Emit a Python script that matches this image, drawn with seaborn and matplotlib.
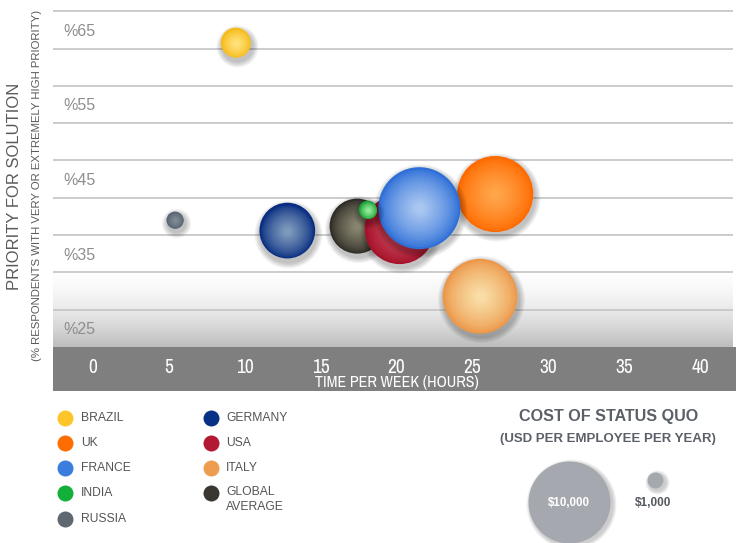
import numpy as np
import pandas as pd
import matplotlib
matplotlib.use("Agg")
import matplotlib.pyplot as plt
import matplotlib.transforms as mtransforms
from matplotlib.colors import LinearSegmentedColormap, to_rgb
from matplotlib import font_manager
import seaborn as sns

# ---- data -------------------------------------------------------------
countries = ["BRAZIL", "UK", "ITALY", "RUSSIA", "GERMANY", "GLOBAL AVERAGE",
             "USA", "FRANCE", "INDIA"]
hours_per_week = [9.4, 26.5, 25.5, 5.4, 12.8, 17.4, 20.2, 21.5, 18.1]
priority_pct = [63.3, 43.0, 29.3, 39.5, 38.1, 38.7, 38.3, 41.1, 40.9]
cost_usd = [2400, 9000, 8800, 1100, 5800, 5700, 8000, 10000, 1200]

x_ticks = [0, 5, 10, 15, 20, 25, 30, 35, 40]
y_labels = [25, 35, 45, 55, 65]
y_grid = [27.5, 32.5, 37.5, 42.5, 47.5, 52.5, 57.5, 62.5, 67.5]

legend_left = ["BRAZIL", "UK", "FRANCE", "INDIA", "RUSSIA"]
legend_right = ["GERMANY", "USA", "ITALY", "GLOBAL AVERAGE"]
cost_legend_values = [10000, 1000]
cost_legend_labels = ["$10,000", "$1,000"]

# flat colour per series, plus edge / centre tones for the sphere shading
flat = {"BRAZIL": "#fdc52a", "UK": "#ff6c00", "FRANCE": "#3b7ddd",
        "INDIA": "#12b038", "RUSSIA": "#5f6770", "GERMANY": "#073185",
        "USA": "#b31933", "ITALY": "#ee9c50", "GLOBAL AVERAGE": "#3a3631"}
edge_tone = {"BRAZIL": "#f6bb16", "UK": "#ff6a00", "FRANCE": "#2e6fd8",
             "INDIA": "#16a232", "RUSSIA": "#566270", "GERMANY": "#072c80",
             "USA": "#a5132b", "ITALY": "#ec984a", "GLOBAL AVERAGE": "#302d28"}
centre_tone = {"BRAZIL": "#ffe27c", "UK": "#ffa54a", "FRANCE": "#a8c6f0",
               "INDIA": "#98ec9f", "RUSSIA": "#818c98", "GERMANY": "#7d99bc",
               "USA": "#cc4a5c", "ITALY": "#f9dda6", "GLOBAL AVERAGE": "#88856f"}

df = pd.DataFrame({"country": countries, "hours": hours_per_week,
                   "priority": priority_pct, "cost": cost_usd})

DPI = 100


def bubble_radius_px(cost):
    # radius grows with cost on a power scale; $10,000 -> 41 px, $1,000 -> 8 px
    return 41.0 * (np.asarray(cost, dtype=float) / 10000.0) ** 0.7097


def bubble_area_pt2(cost):
    return (2 * bubble_radius_px(cost) * 72.0 / DPI) ** 2


def mix(c1, c2, t):
    a, b = np.array(to_rgb(c1)), np.array(to_rgb(c2))
    return tuple(a + (b - a) * t)


# ---- style ------------------------------------------------------------
sns.set_style("white")
plt.rcParams["font.family"] = ["Liberation Sans", "DejaVu Sans"]

# condensed face for the band labels, when one is available
condensed = None
for f in font_manager.fontManager.ttflist:
    if "Narrow" in f.name:
        condensed = dict(family=f.name)
        break
if condensed is None:
    for f in font_manager.fontManager.ttflist:
        if f.name == "DejaVu Sans" and "ondensed" in f.fname and f.weight in (400, "normal"):
            condensed = dict(fname=f.fname)
            break


def band_font(size):
    if condensed is None:
        return font_manager.FontProperties(family="Liberation Sans", size=size * 0.85)
    if "fname" in condensed:
        return font_manager.FontProperties(fname=condensed["fname"], size=size * 0.92)
    return font_manager.FontProperties(family=condensed["family"], size=size)


W, H = 736, 543
fig = plt.figure(figsize=(W / DPI, H / DPI), dpi=DPI)
fig.patch.set_facecolor("white")

# full-figure canvas in pixel units for the band, titles and legends
canvas = fig.add_axes([0, 0, 1, 1], zorder=0)
canvas.set_xlim(0, W)
canvas.set_ylim(H, 0)
canvas.axis("off")

# ---- main axes --------------------------------------------------------
ax_left, ax_right, ax_bottom_px = 53, 733, 347
ax = fig.add_axes([ax_left / W, (H - ax_bottom_px) / H,
                   (ax_right - ax_left) / W, ax_bottom_px / H], zorder=1)
ax.set_facecolor("white")
x_min, x_max = -2.64, 42.17
y_min, y_max = 22.5, 69.0
ax.set_xlim(x_min, x_max)
ax.set_ylim(y_min, y_max)
for s in ax.spines.values():
    s.set_visible(False)

# soft grey fade at the bottom of the plotting area
fade = LinearSegmentedColormap.from_list(
    "fade", [(0, "#bdbdbd"), (0.25, "#d6d6d6"), (0.5, "#eaeaea"),
             (0.75, "#f7f7f7"), (1.0, "#ffffff")])
ax.imshow(np.linspace(0, 1, 200).reshape(-1, 1), cmap=fade, aspect="auto",
          origin="lower", extent=[x_min, x_max, 22.5, 32.5], zorder=0)

for g in y_grid:
    ax.axhline(g, color="#c4c4c4", lw=1.2, zorder=1)

ax.set_yticks(y_labels)
ax.set_yticklabels([f"%{v}" for v in y_labels])
ax.tick_params(axis="y", length=0, pad=-7.5, labelsize=11.5, labelcolor="#8e8e8e")
for lbl in ax.get_yticklabels():
    lbl.set_horizontalalignment("left")

ax.set_xticks(x_ticks)
ax.set_xticklabels([str(v) for v in x_ticks])
ax.tick_params(axis="x", length=0, pad=8.0, labelcolor="white")
for lbl in ax.get_xticklabels():
    lbl.set_fontproperties(band_font(14))

# ---- bubbles ----------------------------------------------------------
size_map = {c: float(bubble_area_pt2(c)) for c in df["cost"]}
shadow_tf = mtransforms.offset_copy(ax.transData, fig=fig, x=1, y=-3, units="dots")

z = 3
for _, row in df.iterrows():
    one = df[df["country"] == row["country"]]
    base = size_map[row["cost"]]
    r = bubble_radius_px(row["cost"])
    # drop shadow
    for k in range(5):
        grow = (r + 1.2 * (k + 1)) / r
        ax.scatter(one["hours"], one["priority"], s=base * grow ** 2,
                   color="black", alpha=0.05, lw=0, transform=shadow_tf, zorder=z)
    z += 1
    # base disc drawn through seaborn
    sns.scatterplot(data=one, x="hours", y="priority", size="cost",
                    sizes=size_map, color=edge_tone[row["country"]],
                    edgecolor="none", linewidth=0, legend=False, ax=ax, zorder=z)
    z += 1
    # radial shading towards a lighter centre
    n = 16
    for i in range(1, n):
        t = i / (n - 1)
        frac = 1 - 0.88 * t
        col = mix(edge_tone[row["country"]], centre_tone[row["country"]], t ** 0.75)
        ax.scatter(one["hours"], one["priority"], s=base * frac ** 2,
                   color=col, lw=0, zorder=z)
        z += 1

ax.set_xlabel("")
ax.set_ylabel("")

# ---- x axis band -------------------------------------------------------
canvas.add_patch(plt.Rectangle((53, 347), W - 53, 44, color="#7f7f7f", lw=0))
canvas.text(397, 383, "TIME PER WEEK (HOURS)", color="white",
            fontproperties=band_font(11.5), ha="center", va="center")

# ---- y axis titles ----------------------------------------------------
canvas.text(15, 186, "PRIORITY FOR SOLUTION", rotation=90, color="#5a5a5a",
            fontsize=12, ha="center", va="center")
canvas.text(37, 185, "(% RESPONDENTS WITH VERY OR EXTREMELY HIGH PRIORITY)",
            rotation=90, color="#5a5a5a", fontsize=8.2, ha="center", va="center")

# ---- series legend ----------------------------------------------------
row_y = [418, 443, 468, 493, 519]
for i, name in enumerate(legend_left):
    canvas.scatter([65], [row_y[i]], s=(2 * 8 * 0.72) ** 2, color=flat[name], lw=0)
    canvas.text(81, row_y[i], name, color="#555555", fontsize=8.7, va="center")
for i, name in enumerate(legend_right):
    canvas.scatter([211], [row_y[i]], s=(2 * 8 * 0.72) ** 2, color=flat[name], lw=0)
    label = "GLOBAL\nAVERAGE" if name == "GLOBAL AVERAGE" else name
    ty = row_y[i] + 6.5 if "\n" in label else row_y[i]
    canvas.text(226, ty, label, color="#555555", fontsize=8.7, va="center",
                linespacing=1.25)

# ---- cost legend ------------------------------------------------------
canvas.text(609, 417, "COST OF STATUS QUO", color="#5b6068", fontsize=11.6,
            fontweight="bold", ha="center", va="center")
canvas.text(608, 439, "(USD PER EMPLOYEE PER YEAR)", color="#5b6068",
            fontsize=9.5, fontweight="bold", ha="center", va="center")
cost_pos = [(569, 502), (655, 480)]
for (cx, cy), val in zip(cost_pos, cost_legend_values):
    a = float(bubble_area_pt2(val))
    r = bubble_radius_px(val)
    sh = mtransforms.offset_copy(canvas.transData, fig=fig, x=1.5, y=-2, units="dots")
    for k in range(4):
        grow = (r + 1.0 * (k + 1)) / r
        canvas.scatter([cx], [cy], s=a * grow ** 2, color="black", alpha=0.05,
                       lw=0, transform=sh)
    canvas.scatter([cx], [cy], s=a, color="#a5a8ae", lw=0)
canvas.text(569, 503, cost_legend_labels[0], color="white", fontsize=8.3,
            fontweight="bold", ha="center", va="center")
canvas.text(653, 503, cost_legend_labels[1], color="#555a60", fontsize=8.5,
            fontweight="bold", ha="center", va="center")

fig.savefig("out.png", dpi=DPI)
